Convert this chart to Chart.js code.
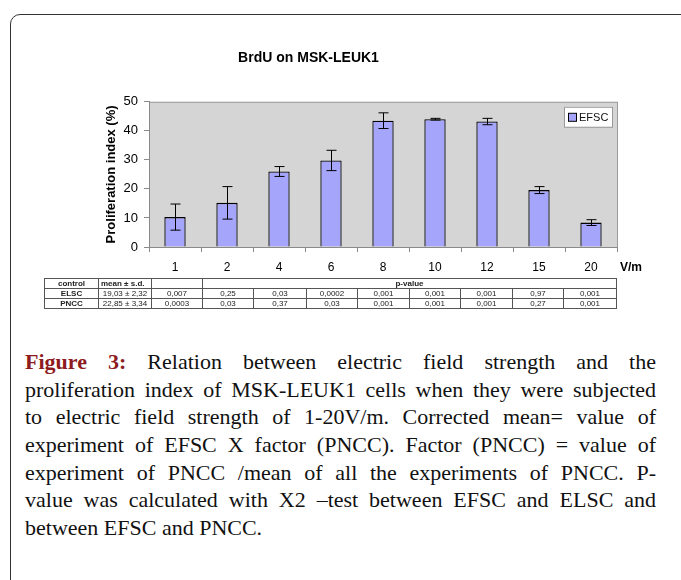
<!DOCTYPE html>
<html>
<head>
<meta charset="utf-8">
<script src="https://cdn.jsdelivr.net/npm/chart.js@4.4.0/dist/chart.umd.min.js"></script>
<style>
  html, body { margin: 0; padding: 0; background: #fff; }
  body { width: 681px; height: 580px; position: relative; overflow: hidden; }
  #frame { position: absolute; left: 10px; top: 14px; width: 720px; height: 620px;
           border: 1.5px solid #333; border-radius: 10px; }
  #chartBox { position: absolute; left: 0; top: 0; width: 676px; height: 280px; }
  #pTable { position: absolute; left: 44px; top: 278px; border-collapse: collapse;
            font-family: "Liberation Sans", Arial, sans-serif; font-size: 8px; color: #222;
            table-layout: fixed; border: 1.5px solid #333; }
  #pTable td { border: 1px solid #555; height: 9px; padding: 0; line-height: 9px; text-align: center; overflow: hidden; white-space: nowrap; }
  #pTable td.b { font-weight: bold; }
  #caption { position: absolute; left: 25px; top: 348px; width: 631px;
             font-family: "Liberation Serif", "Times New Roman", serif; font-size: 22px; color: #111; }
  #caption div { height: 27.7px; line-height: 27.7px; text-align: justify; text-align-last: justify; white-space: nowrap; }
  #caption div.last { text-align-last: left; }
  #caption b { color: #8e1b1d; }
</style>
</head>
<body>
<div id="frame"></div>
<div id="chartBox"><canvas id="brduChart"></canvas></div>
<table id="pTable"></table>
<div id="caption">
  <div><b>Figure 3:</b> Relation between electric field strength and the</div>
  <div>proliferation index of MSK-LEUK1 cells when they were subjected</div>
  <div>to electric field strength of 1-20V/m. Corrected mean= value of</div>
  <div>experiment of EFSC X factor (PNCC). Factor (PNCC) = value of</div>
  <div>experiment of PNCC /mean of all the experiments of PNCC. P-</div>
  <div>value was calculated with X2 –test between EFSC and ELSC and</div>
  <div class="last">between EFSC and PNCC.</div>
</div>

<script>
// field strengths (V/m) on the x axis
const categories = ['1', '2', '4', '6', '8', '10', '12', '15', '20'];
// proliferation index, EFSC (%)
const efscMeans = [10.3, 15.2, 26.0, 29.8, 43.5, 44.0, 43.2, 19.6, 8.4];
const efscErrors = [4.5, 5.6, 1.7, 3.5, 2.7, 0.3, 1.1, 1.2, 1.0];
const yTicks = [0, 10, 20, 30, 40, 50];

// table under the chart
const controlNames = ['ELSC', 'PNCC'];
const controlMeans = ['19,03 ± 2,32', '22,85 ± 3,34'];
const pValuesELSC = ['0,007', '0,25', '0,03', '0,0002', '0,001', '0,001', '0,001', '0,97', '0,001'];
const pValuesPNCC = ['0,0003', '0,03', '0,37', '0,03', '0,001', '0,001', '0,001', '0,27', '0,001'];
const colWidths = [54, 53, 51, 51, 53, 51, 52, 51, 52, 51, 53];

const SANS = '"Liberation Sans", Arial, sans-serif';

// grey plot area with border (Excel look)
const plotBg = {
    id: 'plotBg',
    beforeDraw(chart) {
        const a = chart.chartArea, ctx = chart.ctx;
        ctx.save();
        ctx.fillStyle = '#d5d5d5';
        ctx.fillRect(a.left, a.top, a.right - a.left, a.bottom - a.top);
        ctx.strokeStyle = '#9a9a9a';
        ctx.lineWidth = 1;
        ctx.strokeRect(a.left + 0.5, a.top + 0.5, a.right - a.left, a.bottom - a.top);
        ctx.restore();
    }
};

// error bars
const errorBars = {
    id: 'errorBars',
    afterDatasetsDraw(chart) {
        const ctx = chart.ctx, y = chart.scales.y;
        const meta = chart.getDatasetMeta(0);
        ctx.save();
        ctx.strokeStyle = '#000';
        ctx.lineWidth = 1;
        meta.data.forEach((bar, i) => {
            const x = Math.round(bar.x) + 0.5;
            const hi = y.getPixelForValue(efscMeans[i] + efscErrors[i]);
            const lo = y.getPixelForValue(efscMeans[i] - efscErrors[i]);
            ctx.beginPath();
            ctx.moveTo(x, hi); ctx.lineTo(x, lo);
            ctx.moveTo(x - 5, hi); ctx.lineTo(x + 5, hi);
            ctx.moveTo(x - 5, lo); ctx.lineTo(x + 5, lo);
            ctx.stroke();
        });
        ctx.restore();
    }
};

// legend box inside plot + axis unit label
const extras = {
    id: 'extras',
    afterDraw(chart) {
        const ctx = chart.ctx, a = chart.chartArea;
        const ds = chart.data.datasets[0];
        ctx.save();
        // legend
        const lx = a.right - 53, ly = a.top + 5, lw = 48, lh = 20;
        ctx.fillStyle = '#fff';
        ctx.fillRect(lx, ly, lw, lh);
        ctx.strokeStyle = '#9a9a9a';
        ctx.strokeRect(lx + 0.5, ly + 0.5, lw, lh);
        ctx.fillStyle = ds.backgroundColor;
        ctx.fillRect(lx + 4.5, ly + 6.5, 8, 8);
        ctx.strokeStyle = '#000';
        ctx.strokeRect(lx + 4.5, ly + 6.5, 8, 8);
        ctx.fillStyle = '#111';
        ctx.font = '11px ' + SANS;
        ctx.textBaseline = 'middle';
        ctx.fillText(ds.label, lx + 15, ly + 11);
        // V/m
        const xs = chart.scales.x;
        ctx.font = 'bold 12px ' + SANS;
        ctx.fillStyle = '#000';
        ctx.fillText('V/m', a.right + 3, xs.top + 21);
        ctx.restore();
    }
};

new Chart(document.getElementById('brduChart'), {
    type: 'bar',
    data: {
        labels: categories,
        datasets: [{
            label: 'EFSC',
            data: efscMeans,
            backgroundColor: '#a5a5fb',
            borderColor: '#000',
            borderWidth: 1.3,
            borderSkipped: 'bottom',
            barPercentage: 0.41,
            categoryPercentage: 1
        }]
    },
    options: {
        responsive: true,
        maintainAspectRatio: false,
        animation: false,
        layout: { padding: { left: 0, right: 59, top: 0, bottom: 3 } },
        plugins: {
            legend: { display: false },
            tooltip: { enabled: false },
            title: {
                display: true,
                text: 'BrdU on MSK-LEUK1',
                color: '#000',
                font: { family: SANS, size: 14, weight: 'bold' },
                padding: { top: 50, bottom: 35 }
            }
        },
        scales: {
            x: {
                offset: true,
                grid: { offset: true, drawOnChartArea: false, tickLength: 5, color: '#8a8a8a' },
                border: { color: '#8a8a8a' },
                ticks: { color: '#000', font: { family: SANS, size: 12 }, padding: 8, maxRotation: 0 },
                afterFit(s) { s.height = 30; }
            },
            y: {
                min: 0, max: 50,
                afterBuildTicks(s) { s.ticks = yTicks.map(v => ({ value: v })); },
                grid: { drawOnChartArea: false, tickLength: 5, color: '#8a8a8a' },
                border: { color: '#8a8a8a' },
                ticks: { color: '#000', font: { family: SANS, size: 13 }, padding: 6 },
                title: {
                    display: true,
                    text: 'Proliferation index (%)',
                    color: '#000',
                    font: { family: SANS, size: 13, weight: 'bold' },
                    padding: { top: 104, bottom: 0 }
                },
                afterFit(s) { s.width = 149; }
            }
        }
    },
    plugins: [plotBg, errorBars, extras]
});

// build the p-value table
(function () {
    const t = document.getElementById('pTable');
    let html = '<colgroup>' + colWidths.map(w => `<col style="width:${w}px">`).join('') + '</colgroup>';
    html += '<tr><td class="b">control</td><td class="b" style="text-align:left;padding-left:2px">mean ± s.d.</td><td></td>'
          + `<td class="b" colspan="${categories.length - 1}">p-value</td></tr>`;
    const rows = [pValuesELSC, pValuesPNCC];
    rows.forEach((vals, r) => {
        html += `<tr><td class="b">${controlNames[r]}</td><td>${controlMeans[r]}</td>`
              + vals.map(v => `<td>${v}</td>`).join('') + '</tr>';
    });
    t.innerHTML = html;
})();
</script>
</body>
</html>
